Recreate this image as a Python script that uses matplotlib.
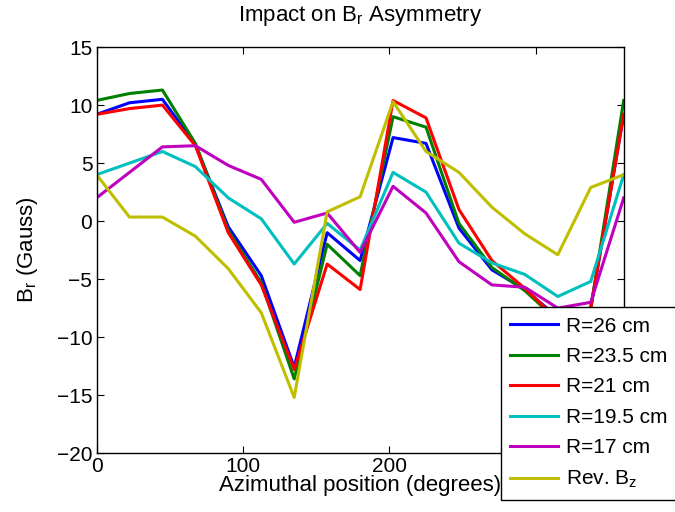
import numpy as np
import matplotlib
matplotlib.use('Agg')
import matplotlib.pyplot as plt

plt.rcParams['font.family'] = ['Liberation Sans', 'DejaVu Sans']
plt.rcParams['mathtext.fontset'] = 'custom'
plt.rcParams['mathtext.rm'] = 'Liberation Sans'

# azimuthal positions (degrees)
angle = np.arange(0, 360.1, 22.5)

r26 = [9.2, 10.2, 10.5, 6.6, -0.5, -4.7, -12.6, -1.0, -3.4, 7.2, 6.7, -0.6, -4.2, -5.9, -8.3, -7.5, 9.2]
r235 = [10.4, 11.0, 11.3, 6.7, -0.8, -5.3, -13.6, -2.0, -4.7, 9.0, 8.1, -0.2, -4.0, -6.0, -8.6, -7.5, 10.4]
r21 = [9.2, 9.7, 10.0, 6.5, -1.0, -5.5, -12.8, -3.7, -5.9, 10.4, 8.9, 1.0, -3.4, -5.8, -8.5, -7.5, 9.2]
r195 = [4.0, 5.0, 6.0, 4.7, 2.0, 0.2, -3.7, -0.2, -2.5, 4.2, 2.5, -1.9, -3.6, -4.6, -6.5, -5.2, 4.0]
r17 = [2.0, 4.2, 6.4, 6.5, 4.8, 3.6, -0.1, 0.7, -2.7, 3.0, 0.7, -3.5, -5.5, -5.7, -7.5, -7.0, 2.0]
revbz = [4.0, 0.35, 0.35, -1.3, -4.1, -7.9, -15.2, 0.8, 2.1, 10.3, 6.0, 4.2, 1.2, -1.1, -2.9, 2.9, 4.0]

series = [r26, r235, r21, r195, r17, revbz]
labels = ['R=26 cm', 'R=23.5 cm', 'R=21 cm', 'R=19.5 cm', 'R=17 cm', 'Rev. B$_\\mathregular{z}$']
colors = [(0, 0, 1), (0, 0.5, 0), (1, 0, 0), (0, 0.75, 0.75), (0.75, 0, 0.75), (0.75, 0.75, 0)]

fig = plt.figure(figsize=(6.75, 5.12), dpi=100)
ax = fig.add_axes([0.143, 0.115, 0.781, 0.793])

for y, lab, c in zip(series, labels, colors):
    ax.plot(angle, y, color=c, lw=2.2, label=lab)

ax.set_xlim(0, 360)
ax.set_ylim(-20, 15)
ax.set_xticks([0, 100, 200, 300])
ax.set_yticks(np.arange(-20, 16, 5))
ax.tick_params(direction='in', top=True, right=True, labelsize=15, length=5, pad=3)
for s in ax.spines.values():
    s.set_linewidth(1.0)

ax.set_title('Impact on B$_\\mathregular{r}$ Asymmetry', fontsize=16, pad=19)
ax.set_xlabel('Azimuthal position (degrees)', fontsize=16, labelpad=-1)
ax.set_ylabel('B$_\\mathregular{r}$ (Gauss)', fontsize=16, labelpad=12)

leg = ax.legend(loc='upper left', bbox_to_anchor=(0.742, 0.400), bbox_transform=fig.transFigure,
                borderaxespad=0, fontsize=15, handlelength=2.3, labelspacing=0.55,
                fancybox=False, framealpha=1, edgecolor='black', borderpad=0.45, handletextpad=0.4)
leg.get_frame().set_linewidth(1.0)
leg.set_zorder(10)

fig.savefig('out.png', dpi=100)
